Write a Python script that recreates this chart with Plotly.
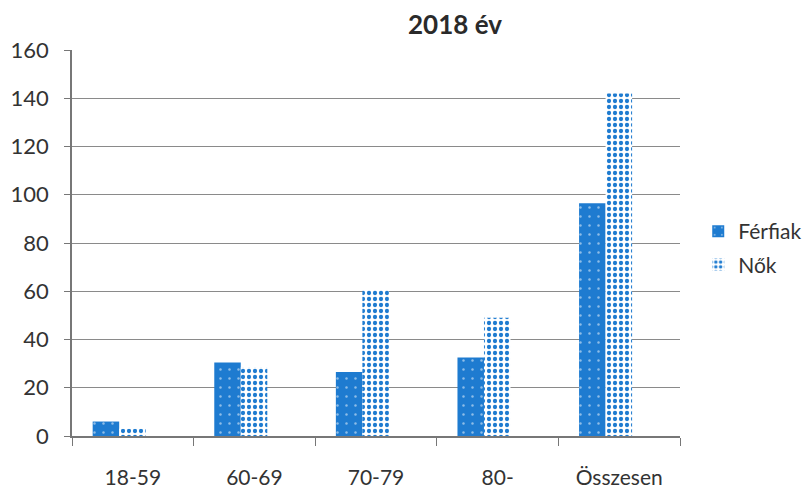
import plotly.graph_objects as go

categories = ["18-59", "60-69", "70-79", "80-", "Összesen"]
ferfiak = [6, 30.5, 26.5, 32.5, 96.5]
nok = [3, 28.5, 60.5, 49, 142]
y_ticks = [0, 20, 40, 60, 80, 100, 120, 140, 160]

BLUE = "#1e7bd0"
FONT = "Lato"
TXT = "#333333"
BAR_W = 0.218          # bar width in category units
GROUP_START = -0.33    # left edge of first bar relative to category centre

fig = go.Figure()
fig.add_trace(go.Bar(
    name="Férfiak", x=categories, y=ferfiak, legendgroup="f",
    width=BAR_W, offset=GROUP_START,
    marker=dict(color=BLUE, line=dict(width=0),
                pattern=dict(shape=".", fgcolor="#ffffff", bgcolor=BLUE,
                             size=9, solidity=0.06, fillmode="overlay")),
))
fig.add_trace(go.Bar(
    name="Nők", x=categories, y=nok, legendgroup="n",
    width=BAR_W, offset=GROUP_START + BAR_W,
    marker=dict(color="#ffffff", line=dict(width=0),
                pattern=dict(shape=".", fgcolor=BLUE, bgcolor="#ffffff",
                             size=6, solidity=0.4, fillmode="replace")),
))

fig.update_layout(
    width=811, height=496,
    barmode="overlay",
    paper_bgcolor="white", plot_bgcolor="white",
    margin=dict(l=64, r=136, t=42, b=68),
    font=dict(family=FONT, size=21, color=TXT),
    title=dict(text="<b>2018 év</b>", x=447 / 811, xanchor="center",
               y=1 - 17 / 496, yanchor="middle", font=dict(size=26, color="#2a2a2a")),
    legend=dict(x=1.03, y=0.487, xanchor="left", yanchor="middle",
                font=dict(size=21), tracegroupgap=3, itemwidth=30),
    xaxis=dict(showline=True, linecolor="#777777", linewidth=1.5, automargin=False,
               ticks="outside", tickson="boundaries", ticklen=8, tickcolor="#777777",
               showgrid=False, tickfont=dict(size=21), ticklabelstandoff=22),
    yaxis=dict(range=[0, 160], tickvals=y_ticks, showline=True, linecolor="#777777",
               linewidth=1.5, ticks="outside", ticklen=6, tickcolor="#777777",
               automargin=False,
               gridcolor="#8a8a8a", gridwidth=1, zeroline=False,
               tickfont=dict(size=22), ticklabelstandoff=11),
)

fig.write_html("out.html")
